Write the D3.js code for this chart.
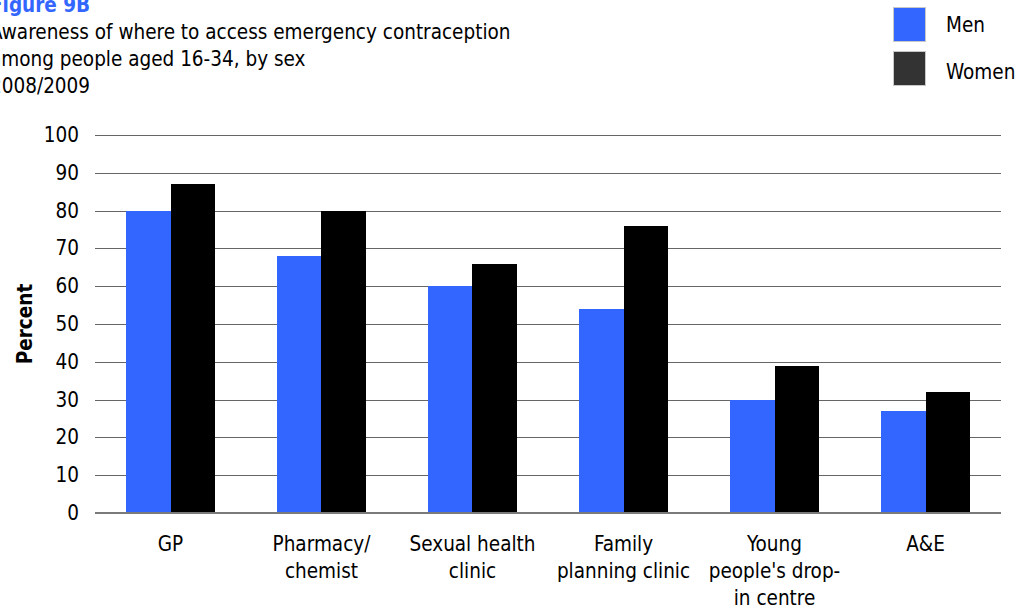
<!DOCTYPE html>
<html>
<head>
<meta charset="utf-8">
<script src="https://cdn.jsdelivr.net/npm/d3@7"></script>
<style>
  html, body { margin: 0; padding: 0; background: #fff; }
  svg { display: block; }
  text { font-family: "DejaVu Sans Condensed", "DejaVu Sans", sans-serif; fill: #000; }
</style>
</head>
<body>
<svg id="chart" width="1027" height="610"></svg>
<script>
// Survey figures: awareness of where to get emergency contraception, ages 16-34
const categories = ["GP", "Pharmacy/chemist", "Sexual health clinic", "Family planning clinic", "Young people's drop-in centre", "A&E"];
const categoryLines = [
  ["GP"],
  ["Pharmacy/", "chemist"],
  ["Sexual health", "clinic"],
  ["Family", "planning clinic"],
  ["Young", "people's drop-", "in centre"],
  ["A&E"]
];
const seriesNames = ["Men", "Women"];
const menValues = [80, 68, 60, 54, 30, 27];
const womenValues = [87, 80, 66, 76, 39, 32];
const yTicks = [0, 10, 20, 30, 40, 50, 60, 70, 80, 90, 100];
const titleLines = ["Figure 9B", "Awareness of where to access emergency contraception", "among people aged 16-34, by sex", "2008/2009"];

const barColors = ["#3366ff", "#000000"];
const legendColors = ["#3366ff", "#333333"];

const svg = d3.select("#chart");
const plot = { left: 95, right: 1001, top: 135, bottom: 513 };

const rows = categories.map((c, i) => ({ cat: c, values: [menValues[i], womenValues[i]] }));

const x0 = d3.scaleBand()
  .domain(categories)
  .range([plot.left, plot.right])
  .paddingInner(0.414)
  .paddingOuter(0.207);

const x1 = d3.scaleBand()
  .domain(seriesNames)
  .range([0, x0.bandwidth()]);

const y = d3.scaleLinear().domain([0, 100]).range([plot.bottom, plot.top]);

// Horizontal gridlines with value labels on the left
const yAxis = d3.axisLeft(y)
  .tickValues(yTicks)
  .tickSize(-(plot.right - plot.left))
  .tickPadding(16)
  .tickFormat(d3.format("d"));

const gy = svg.append("g")
  .attr("transform", `translate(${plot.left},0)`)
  .call(yAxis);
gy.select(".domain").remove();
gy.selectAll(".tick line")
  .attr("stroke", "#666")
  .attr("stroke-width", 1)
  .attr("shape-rendering", "crispEdges");
gy.selectAll(".tick text")
  .attr("font-size", 20.5)
  .attr("font-family", "DejaVu Sans Condensed, DejaVu Sans, sans-serif")
  .attr("fill", "#000");

// Bars
const groups = svg.append("g").selectAll("g")
  .data(rows)
  .join("g")
  .attr("transform", d => `translate(${x0(d.cat)},0)`);

groups.selectAll("rect")
  .data(d => d.values.map((v, j) => ({ key: seriesNames[j], value: v, j })))
  .join("rect")
  .attr("x", d => x1(d.key))
  .attr("y", d => y(d.value))
  .attr("width", x1.bandwidth())
  .attr("height", d => y(0) - y(d.value))
  .attr("fill", d => barColors[d.j])
  .attr("shape-rendering", "crispEdges");

// Baseline at zero
svg.append("line")
  .attr("x1", plot.left).attr("x2", plot.right)
  .attr("y1", y(0)).attr("y2", y(0))
  .attr("stroke", "#7a7a7a")
  .attr("stroke-width", 2);

// Category labels, wrapped over several lines
const catLabels = svg.append("g").selectAll("text")
  .data(categories)
  .join("text")
  .attr("text-anchor", "middle")
  .attr("font-size", 20.5)
  .attr("transform", d => `translate(${x0(d) + x0.bandwidth() / 2},551)`);
catLabels.selectAll("tspan")
  .data((d, i) => categoryLines[i])
  .join("tspan")
  .attr("x", 0)
  .attr("y", (d, k) => k * 27)
  .text(d => d);

// Y axis title
svg.append("text")
  .attr("transform", `translate(32,${(plot.top + plot.bottom) / 2}) rotate(-90)`)
  .attr("text-anchor", "middle")
  .attr("font-weight", "bold")
  .attr("font-size", 20.5)
  .text("Percent");

// Title block (runs off the left edge of the canvas)
svg.append("g").selectAll("text")
  .data(titleLines)
  .join("text")
  .attr("x", -10)
  .attr("y", (d, i) => 12 + i * 27)
  .attr("font-size", 20.5)
  .attr("font-weight", (d, i) => i === 0 ? "bold" : "normal")
  .style("fill", (d, i) => i === 0 ? "#3366ff" : "#000")
  .text(d => d);

// Legend
const legend = svg.append("g").selectAll("g")
  .data(seriesNames)
  .join("g");
legend.append("rect")
  .attr("x", 893.5)
  .attr("y", (d, i) => 7.5 + i * 44)
  .attr("width", 32).attr("height", 34)
  .attr("fill", (d, i) => legendColors[i])
  .attr("stroke", "#c8c8c8")
  .attr("stroke-width", 1);
legend.append("text")
  .attr("x", 946)
  .attr("y", (d, i) => 32 + i * 47)
  .attr("font-size", 20.5)
  .text(d => d);
</script>
</body>
</html>
